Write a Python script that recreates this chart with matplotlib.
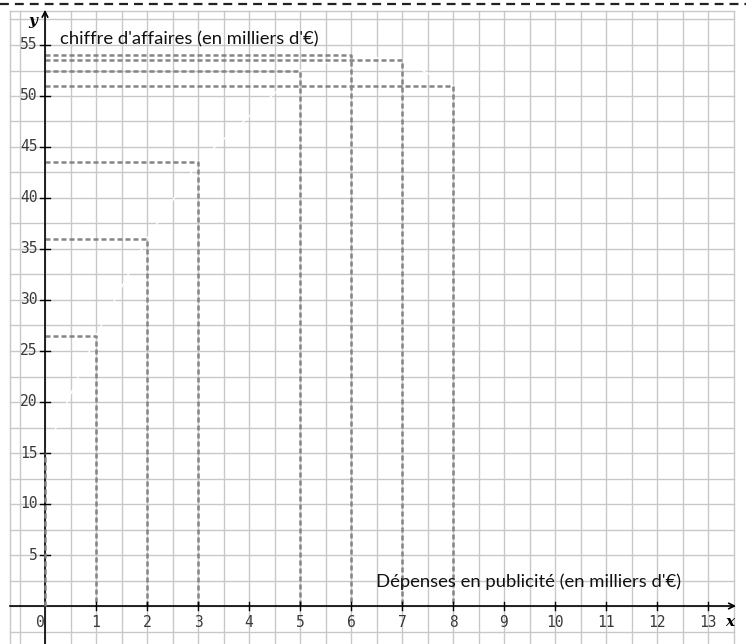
import numpy as np
import matplotlib
matplotlib.use("Agg")
import matplotlib.pyplot as plt
from matplotlib.lines import Line2D

# spending (k€) and revenue (k€)
depenses = [1, 2, 3, 5, 6, 7, 8]
chiffre = [26.5, 36, 43.5, 52.5, 54, 53.5, 51]
# faint white curve through the points, starting at (0, 15)
courbe_x = [0, 1, 2, 3, 5, 6, 7, 8]
courbe_y = [15, 26.5, 36, 43.5, 52.5, 54, 53.5, 51]

x_ticks = list(range(0, 14))
y_ticks = list(range(5, 60, 5))

fig = plt.figure(figsize=(7.46, 6.44), dpi=100)
ax = fig.add_axes([0, 0, 1, 1])
ax.set_xlim(-45 / 51, (746 - 45) / 51)
ax.set_ylim((606 - 644) / 10.2, 606 / 10.2)
ax.axis("off")

# grid paper
gx0, gx1 = -0.69, 13.5
gy0, gy1 = -3.8, 58.33
grid_col = "#c8c8c8"
for gx in np.arange(-0.5, 13.51, 0.5):
    ax.plot([gx, gx], [gy0, gy1], color=grid_col, lw=1.0, zorder=1)
for gy in np.arange(-2.5, 57.6, 2.5):
    ax.plot([gx0, gx1], [gy, gy], color=grid_col, lw=1.0, zorder=1)
ax.plot([gx0, gx0], [gy0, gy1], color=grid_col, lw=1.0, zorder=1)
ax.plot([gx0, gx1], [gy1, gy1], color=grid_col, lw=1.0, zorder=1)

# white curve
ax.plot(courbe_x, courbe_y, color="white", lw=1.0, zorder=2)

# dashed projections
dash_col = "#858585"
for xv, yv in zip(depenses, chiffre):
    ax.plot([0, xv, xv], [yv, yv, 0], color=dash_col, lw=1.8,
            dashes=(2.0, 1.2), zorder=3)
ax.plot([0, 0], [0, courbe_y[0]], color=dash_col, lw=1.8, dashes=(2.0, 1.2), zorder=5)

# axes with arrows
ax.annotate("", xy=(13.55, 0), xytext=(gx0, 0),
            arrowprops=dict(arrowstyle="->", lw=1.2, color="black",
                            shrinkA=0, shrinkB=0, mutation_scale=10), zorder=4)
ax.annotate("", xy=(0, 58.45), xytext=(0, gy0),
            arrowprops=dict(arrowstyle="->", lw=1.2, color="black",
                            shrinkA=0, shrinkB=0, mutation_scale=10), zorder=4)

mono = dict(family="DejaVu Sans Mono", fontsize=10.5, color="#3a3a3a")
for t in x_ticks:
    if t > 0:
        ax.plot([t, t], [-0.4, 0.4], color="black", lw=1.0, zorder=4)
        ax.text(t, -1.6, str(t), ha="center", va="center", **mono)
ax.text(-0.1, -1.6, "0", ha="center", va="center", **mono)
for t in y_ticks:
    ax.plot([-0.1, 0.1], [t, t], color="black", lw=1.0, zorder=4)
    ax.text(-0.14, t, str(t), ha="right", va="center", **mono)

serif = dict(family="DejaVu Serif", style="italic", weight="bold", fontsize=11)
ax.text(-0.24, 57.4, "y", ha="center", va="center", **serif)
ax.text(13.43, -1.6, "x", ha="center", va="center", **serif)

sans = ["Lato", "DejaVu Sans"]
ax.text(0.3, 55.6, "chiffre d'affaires (en milliers d'\u20ac)", family=sans,
        fontsize=13.3, ha="left", va="center", color="#111")
ax.text(6.49, 2.35, "D\u00e9penses en publicit\u00e9 (en milliers d'\u20ac)", family=sans,
        fontsize=13.3, ha="left", va="center", color="#111")

# dashed frame line at the top
fig.add_artist(Line2D([0, 1], [1 - 3.5 / 644, 1 - 3.5 / 644], transform=fig.transFigure,
                      color="#222", lw=1.6, dashes=(4, 2.7)))

fig.savefig("out.png", dpi=100)
